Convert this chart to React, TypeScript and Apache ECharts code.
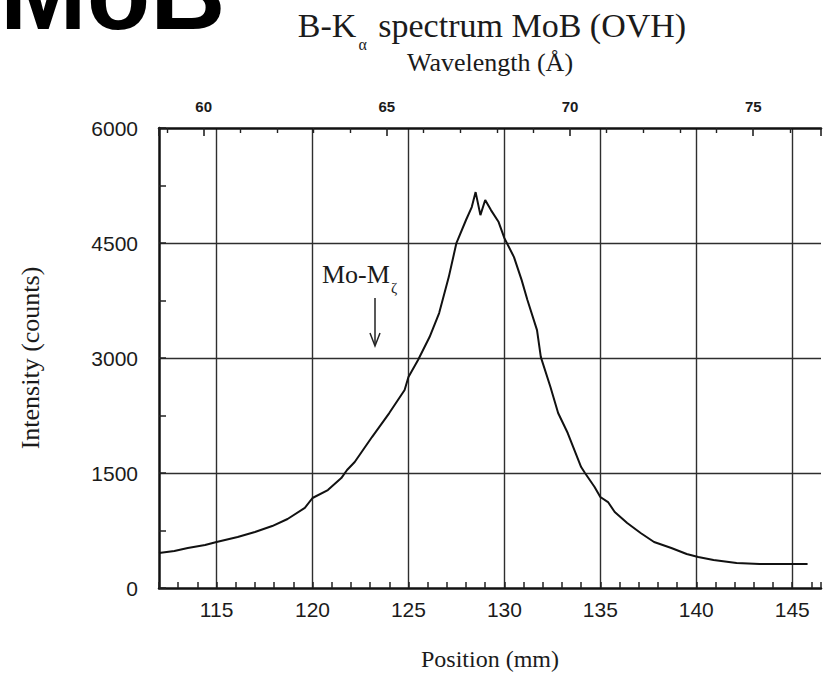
import React, { useEffect, useRef } from "react";
import * as echarts from "echarts";

// Position (mm) along the spectrometer and measured intensity (counts)
const positionMm = [
  112.0, 112.8, 113.5, 114.4, 115.0, 116.1, 117.0, 117.9, 118.7, 119.6, 120.0,
  120.8, 121.5, 121.8, 122.2, 123.1, 124.0, 124.8, 125.0, 125.5, 126.1, 126.6,
  127.1, 127.5, 128.0, 128.3, 128.5, 128.75, 129.0, 129.3, 129.7, 130.0, 130.5,
  130.9, 131.2, 131.7, 131.9, 132.4, 132.8, 133.3, 134.0, 134.2, 134.7, 135.0,
  135.4, 135.75, 136.4, 137.1, 137.8, 138.7, 139.5, 140.1, 140.9, 142.1, 143.3,
  144.7, 145.8,
];
const intensityCounts = [
  456, 482, 522, 560, 600, 665, 730, 808, 900, 1045, 1174,
  1278, 1434, 1539, 1643, 1969, 2282, 2582, 2751, 2973, 3273, 3586,
  4055, 4499, 4800, 4968, 5164, 4864, 5060, 4929, 4773, 4564, 4316,
  4016, 3756, 3364, 3012, 2621, 2282, 2021, 1578, 1500, 1317, 1187,
  1121, 991, 848, 717, 600, 522, 443, 404, 365, 326, 313,
  313, 313,
];

// Axis ranges
const positionRange = [112, 146.5];
const wavelengthRange = [58.78, 76.85];
const intensityRange = [0, 6000];
const intensityStep = 1500;
const labelStep = 5;

const serif = '"Liberation Serif", "DejaVu Serif", serif';
const sans = '"Liberation Sans", Arial, sans-serif';
const ink = "#1b1b1b";
const gridColor = "#2e2e2e";

const fmt = (v: number) => (Math.abs(v % labelStep) < 1e-9 ? String(v) : "");

export default function App() {
  const ref = useRef<HTMLDivElement>(null);

  useEffect(() => {
    if (!ref.current) return;
    const chart = echarts.init(ref.current, null, { renderer: "svg" });
    chart.setOption({
      animation: false,
      backgroundColor: "#ffffff",
      grid: { left: 159, right: 0, top: 128, bottom: 99, containLabel: false },
      xAxis: [
        {
          type: "value",
          position: "bottom",
          min: positionRange[0],
          max: positionRange[1],
          minInterval: labelStep,
          maxInterval: labelStep,
          splitNumber: 7,
          name: "Position (mm)",
          nameLocation: "middle",
          nameGap: 59,
          nameTextStyle: { fontFamily: serif, fontSize: 24, color: ink },
          axisLine: { show: true, onZero: false, lineStyle: { color: "#111", width: 2.5 } },
          axisTick: { show: true, inside: true, length: 6, lineStyle: { color: "#222", width: 1.5 } },
          minorTick: { show: true, splitNumber: 5, length: 6, lineStyle: { color: "#222", width: 1.5 } },
          axisLabel: { margin: 11, fontFamily: sans, fontSize: 21, color: ink, formatter: fmt },
          splitLine: {
            show: true,
            showMinLine: false,
            showMaxLine: false,
            lineStyle: { color: gridColor, width: 1.4 },
          },
        },
        {
          type: "value",
          position: "top",
          min: wavelengthRange[0],
          max: wavelengthRange[1],
          minInterval: labelStep,
          maxInterval: labelStep,
          splitNumber: 4,
          name: "Wavelength (Å)",
          nameLocation: "middle",
          nameGap: 53,
          nameTextStyle: { fontFamily: serif, fontSize: 26, color: ink },
          axisLine: { show: true, onZero: false, lineStyle: { color: "#111", width: 2.5 } },
          axisTick: { show: true, inside: true, length: 8, lineStyle: { color: "#222", width: 1.6 } },
          minorTick: { show: true, splitNumber: 5, length: 5, lineStyle: { color: "#222", width: 1.4 } },
          axisLabel: {
            margin: 14,
            fontFamily: sans,
            fontSize: 15,
            fontWeight: "bold",
            color: ink,
            formatter: fmt,
          },
          splitLine: { show: false },
        },
      ],
      yAxis: {
        type: "value",
        min: intensityRange[0],
        max: intensityRange[1],
        interval: intensityStep,
        name: "Intensity (counts)",
        nameLocation: "middle",
        nameGap: 116,
        nameTextStyle: { fontFamily: serif, fontSize: 26, color: ink },
        axisLine: { show: true, onZero: false, lineStyle: { color: "#111", width: 2.5 } },
        axisTick: { show: true, inside: true, length: 7, lineStyle: { color: "#222", width: 1.5 } },
        minorTick: { show: true, splitNumber: 2, length: 7, lineStyle: { color: "#222", width: 1.5 } },
        axisLabel: {
          margin: 21,
          fontFamily: sans,
          fontSize: 21,
          color: ink,
          formatter: (v: number) => String(v),
        },
        splitLine: {
          show: true,
          showMinLine: false,
          showMaxLine: false,
          lineStyle: { color: gridColor, width: 1.4 },
        },
      },
      series: [
        {
          type: "line",
          xAxisIndex: 0,
          yAxisIndex: 0,
          data: positionMm.map((p, i) => [p, intensityCounts[i]]),
          showSymbol: false,
          symbol: "none",
          color: "#111",
          lineStyle: { color: "#111", width: 2 },
        },
      ],
      graphic: [
        {
          type: "text",
          x: 0,
          y: -7,
          style: {
            text: "MoB",
            font: `bold 104px ${sans}`,
            fill: "#000",
            align: "left",
            verticalAlign: "middle",
          },
        },
        {
          type: "text",
          x: 492,
          y: 25,
          style: {
            text: "{n|B-K}{s|α}{n| spectrum MoB (OVH)}",
            align: "center",
            verticalAlign: "middle",
            rich: {
              n: { fontFamily: serif, fontSize: 34, fill: ink, verticalAlign: "middle" },
              s: {
                fontFamily: serif,
                fontSize: 16,
                fill: ink,
                verticalAlign: "bottom",
                padding: [38, 3, 0, 2],
              },
            },
          },
        },
        {
          type: "text",
          x: 322,
          y: 274,
          style: {
            text: "{n|Mo-M}{s|ζ}",
            align: "left",
            verticalAlign: "middle",
            rich: {
              n: { fontFamily: serif, fontSize: 26, fill: ink, verticalAlign: "middle" },
              s: {
                fontFamily: serif,
                fontSize: 15,
                fill: ink,
                verticalAlign: "bottom",
                padding: [28, 0, 0, 1],
              },
            },
          },
        },
        {
          type: "line",
          shape: { x1: 375, y1: 298, x2: 375, y2: 345 },
          style: { stroke: "#222", lineWidth: 1.5 },
        },
        {
          type: "polyline",
          shape: { points: [[370, 333], [375, 346], [380, 333]] },
          style: { stroke: "#222", fill: "none", lineWidth: 1.5 },
        },
      ],
    });
    return () => chart.dispose();
  }, []);

  return (
    <div
      ref={ref}
      style={{ position: "fixed", left: 0, top: 0, width: 824, height: 687, background: "#fff" }}
    />
  );
}
